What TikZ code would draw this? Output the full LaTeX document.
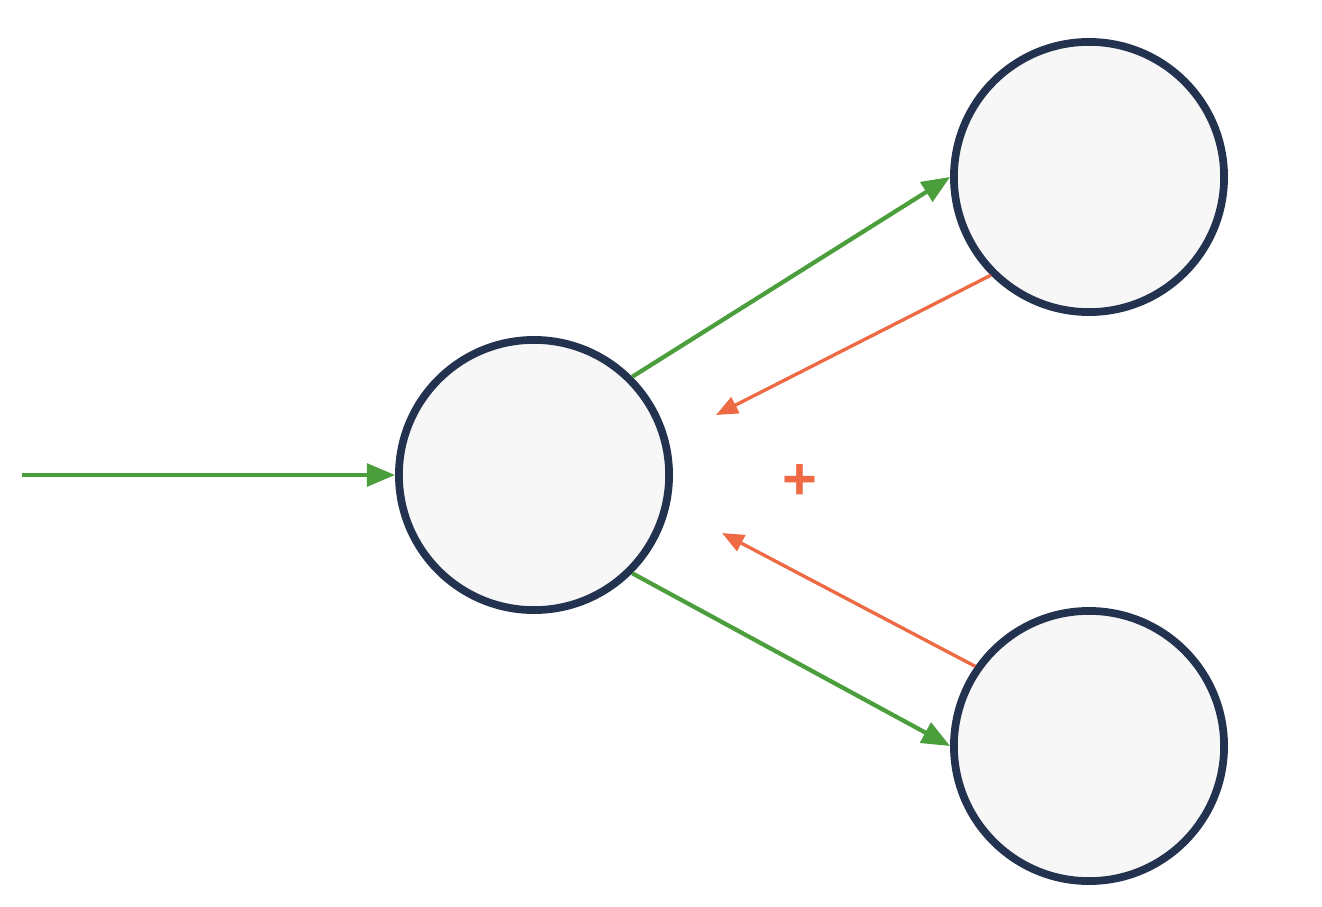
\documentclass[tikz,border=0pt]{standalone}
\usepackage{fontspec}
\setmainfont{Liberation Sans}
\usetikzlibrary{arrows.meta}
\definecolor{navy}{HTML}{22324F}
\definecolor{leaf}{HTML}{4A9E3C}
\definecolor{coral}{HTML}{EE6A45}
\definecolor{paper}{HTML}{F7F7F7}
\tikzset{
	unit/.style={circle, draw=navy, fill=paper, line width=2.2pt, minimum size=2.7cm, inner sep=0pt},
	fwd/.style={draw=leaf, line width=1.2pt, -{Triangle[length=8pt, width=6.4pt]}},
	back/.style={draw=coral, line width=0.95pt, -{Triangle[length=6.2pt, width=5pt]}}
}
\begin{document}
\begin{tikzpicture}[x=0.01cm, y=-0.01cm]
		\useasboundingbox (0,0) rectangle (1322,906);
		\node[unit] (hidden) at (534,475) {};
		\node[unit] (upper) at (1089,177) {};
		\node[unit] (lower) at (1089,746) {};
		\coordinate (input) at (22,475);
		\coordinate (upperback) at (716,415);
		\coordinate (lowerback) at (722,533);
		\node[text=coral, font=\fontsize{17}{17}\selectfont\bfseries] (sum) at (800,482) {+};
		\draw[fwd] (input) -- (hidden.west);
		\draw[fwd] (hidden.45) -- (upper.west);
		\draw[fwd] (hidden.-45) -- (lower.west);
		\draw[back] (upper.225) -- (upperback);
		\draw[back] (lower.145) -- (lowerback);
	\end{tikzpicture}
\end{document}
